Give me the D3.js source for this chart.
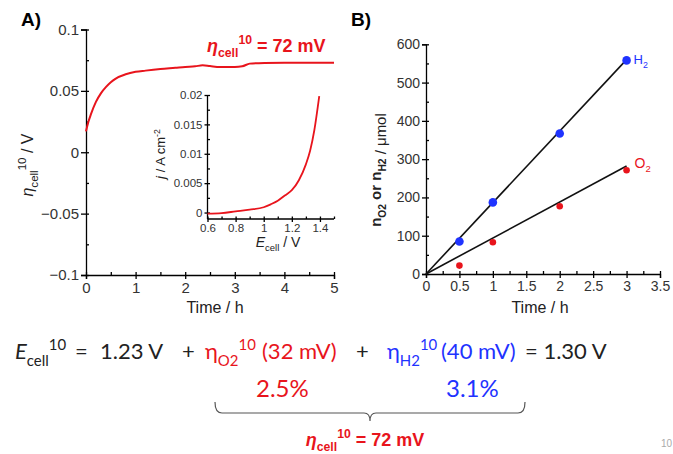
<!DOCTYPE html>
<html>
<head>
<meta charset="utf-8">
<script src="https://cdn.jsdelivr.net/npm/d3@7"></script>
<style>
  body { margin: 0; background: #fff; }
  svg text { font-family: "Liberation Sans", Arial, sans-serif; }
  .axis path, .axis line { stroke: #000; stroke-width: 1.3; }
  .axis text { fill: #333; }
</style>
</head>
<body>
<svg id="fig" width="673" height="454"></svg>
<script>
// panel A: overpotential vs time
var timeA = [0, 0.05, 0.1, 0.2, 0.3, 0.4, 0.5, 0.6, 0.8, 1.0, 1.2, 1.5, 1.8, 2.0, 2.2, 2.35, 2.5, 2.7, 3.0, 3.15, 3.3, 3.6, 4.0, 5.0];
var etaA  = [0.017, 0.025, 0.031, 0.041, 0.048, 0.053, 0.057, 0.060, 0.0635, 0.0655, 0.0665, 0.0678, 0.0688, 0.0695, 0.070, 0.0708, 0.0702, 0.0695, 0.0695, 0.070, 0.0722, 0.0728, 0.073, 0.073];

// inset: polarisation curve
var eInset = [0.6, 0.7, 0.8, 0.9, 1.0, 1.05, 1.1, 1.15, 1.2, 1.25, 1.3, 1.33, 1.36, 1.395];
var jInset = [-0.0002, -0.0001, 0.0002, 0.0005, 0.0009, 0.0014, 0.002, 0.0029, 0.0038, 0.0055, 0.0082, 0.0105, 0.014, 0.0198];

// panel B: gas evolution
var timeB = [0.5, 1, 2, 3];
var h2 = [85, 187, 367, 558];
var o2 = [22, 83, 177, 271];
var fitT = [0, 3];
var h2Fit = [0, 560];
var o2Fit = [0, 282];

var ticksA_x = [0, 1, 2, 3, 4, 5];
var ticksA_y = [-0.1, -0.05, 0, 0.05, 0.1];
var ticksIn_x = [0.6, 0.8, 1, 1.2, 1.4];
var ticksIn_y = [0, 0.005, 0.01, 0.015, 0.02];
var ticksB_x = [0, 0.5, 1, 1.5, 2, 2.5, 3, 3.5];
var ticksB_y = [0, 100, 200, 300, 400, 500, 600];

var red = "#e8141c", blue = "#1f33ff";

var svg = d3.select("#fig");

// rich text helper: parts = [[text, "sub"|"sup"|"", italic]]
function rich(sel, parts, size) {
  var shift = 0;
  parts.forEach(function (p) {
    var t = sel.append("tspan").text(p[0]);
    var target = p[1] === "sub" ? size * 0.3 : p[1] === "sup" ? -size * 0.42 : 0;
    t.attr("dy", target - shift);
    shift = target;
    if (p[1]) t.style("font-size", (size * 0.68) + "px");
    if (p[2]) t.style("font-style", "italic");
  });
  return sel;
}

function minor(g, scale, vals, orient, len) {
  var ax = orient === "bottom" ? d3.axisBottom(scale) : d3.axisLeft(scale);
  g.call(ax.tickValues(vals).tickSize(-len).tickFormat(""));
  g.select(".domain").remove();
}

function lines(a, b) { return a.map(function (d, i) { return [d, b[i]]; }); }

// ---------- panel A ----------
var xA = d3.scaleLinear().domain([0, 5]).range([86, 334]);
var yA = d3.scaleLinear().domain([-0.1, 0.1]).range([275, 29.5]);

svg.append("g").attr("class", "axis")
  .attr("transform", "translate(0," + yA(-0.1) + ")")
  .call(d3.axisBottom(xA).tickValues(ticksA_x).tickSize(4).tickPadding(3).tickFormat(d3.format("d")))
  .selectAll("text").style("font-size", "15px");
svg.append("g").attr("class", "axis")
  .attr("transform", "translate(0," + yA(-0.1) + ")")
  .call(function (g) { minor(g, xA, d3.range(0, 5.01, 0.5), "bottom", 3); });

svg.append("g").attr("class", "axis")
  .attr("transform", "translate(" + xA(0) + ",0)")
  .call(d3.axisLeft(yA).tickValues(ticksA_y).tickSize(5).tickPadding(2).tickFormat(function (d) { return d3.format("")(+d.toFixed(2)); }))
  .selectAll("text").style("font-size", "15px");
svg.append("g").attr("class", "axis")
  .attr("transform", "translate(" + xA(0) + ",0)")
  .call(function (g) { minor(g, yA, d3.range(-0.1, 0.1001, 0.025), "left", 3); });

svg.append("path")
  .datum(lines(timeA, etaA))
  .attr("fill", "none").attr("stroke", red).attr("stroke-width", 2)
  .attr("d", d3.line().curve(d3.curveMonotoneX).x(function (d) { return xA(d[0]); }).y(function (d) { return yA(d[1]); }));

svg.append("text").attr("x", 21).attr("y", 26)
  .style("font-size", "19px").style("font-weight", "bold").text("A)");

rich(svg.append("text").attr("x", 207).attr("y", 52)
  .style("font-size", "18px").style("font-weight", "bold").attr("fill", red),
  [["η", "", true], ["cell", "sub"], ["10", "sup"], [" = 72 mV", ""]], 18);

rich(svg.append("text").attr("transform", "translate(33,165) rotate(-90)")
  .attr("text-anchor", "middle").style("font-size", "16px").attr("fill", "#222"),
  [["η", "", true], ["cell", "sub"], ["10", "sup"], [" / V", ""]], 17);

svg.append("text").attr("x", 215).attr("y", 313).attr("text-anchor", "middle")
  .style("font-size", "16px").attr("fill", "#222").text("Time / h");

// ---------- inset ----------
var xI = d3.scaleLinear().domain([0.6, 1.5]).range([207.5, 334]);
var yI = d3.scaleLinear().domain([-0.0011, 0.02]).range([219, 95]);

svg.append("g").attr("class", "axis")
  .attr("transform", "translate(0," + yI.range()[0] + ")")
  .call(d3.axisBottom(xI).tickValues(ticksIn_x).tickSize(3).tickPadding(2).tickFormat(d3.format("")))
  .call(function (g) { g.select(".domain").attr("d", "M207.5,0H334"); })
  .selectAll("text").style("font-size", "11.5px");
svg.append("g").attr("class", "axis")
  .attr("transform", "translate(0," + yI.range()[0] + ")")
  .call(function (g) { minor(g, xI, d3.range(0.6, 1.51, 0.1), "bottom", 2.5); });

svg.append("g").attr("class", "axis")
  .attr("transform", "translate(" + xI.range()[0] + ",0)")
  .call(d3.axisLeft(yI).tickValues(ticksIn_y).tickSize(3).tickPadding(2).tickFormat(function (d) { return d3.format("")(+d.toFixed(3)); }))
  .call(function (g) { g.select(".domain").attr("d", "M0,219V95"); })
  .selectAll("text").style("font-size", "11.5px");
svg.append("g").attr("class", "axis")
  .attr("transform", "translate(" + xI.range()[0] + ",0)")
  .call(function (g) { minor(g, yI, d3.range(0, 0.0201, 0.0025), "left", 2.5); });

svg.append("path")
  .datum(lines(eInset, jInset))
  .attr("fill", "none").attr("stroke", red).attr("stroke-width", 1.8)
  .attr("d", d3.line().curve(d3.curveMonotoneX).x(function (d) { return xI(d[0]); }).y(function (d) { return yI(d[1]); }));

rich(svg.append("text").attr("transform", "translate(165,154) rotate(-90)")
  .attr("text-anchor", "middle").style("font-size", "13px").attr("fill", "#222"),
  [["j", "", true], [" / A cm", ""], ["-2", "sup"]], 13);

rich(svg.append("text").attr("x", 278).attr("y", 247).attr("text-anchor", "middle")
  .style("font-size", "14px").attr("fill", "#222"),
  [["E", "", true], ["cell", "sub"], [" / V", ""]], 14);

// ---------- panel B ----------
var xB = d3.scaleLinear().domain([0, 3.5]).range([426, 660]);
var yB = d3.scaleLinear().domain([0, 600]).range([274, 44.3]);

svg.append("g").attr("class", "axis")
  .attr("transform", "translate(0," + yB(0) + ")")
  .call(d3.axisBottom(xB).tickValues(ticksB_x).tickSize(4).tickPadding(3).tickFormat(d3.format("")))
  .selectAll("text").style("font-size", "14px");
svg.append("g").attr("class", "axis")
  .attr("transform", "translate(0," + yB(0) + ")")
  .call(function (g) { minor(g, xB, d3.range(0, 3.51, 0.25), "bottom", 3); });

svg.append("g").attr("class", "axis")
  .attr("transform", "translate(" + xB(0) + ",0)")
  .call(d3.axisLeft(yB).tickValues(ticksB_y).tickSize(4).tickPadding(2))
  .selectAll("text").style("font-size", "14px");
svg.append("g").attr("class", "axis")
  .attr("transform", "translate(" + xB(0) + ",0)")
  .call(function (g) { minor(g, yB, d3.range(0, 601, 50), "left", 3); });

var lineB = d3.line().x(function (d) { return xB(d[0]); }).y(function (d) { return yB(d[1]); });
[h2Fit, o2Fit].forEach(function (f) {
  svg.append("path").datum(lines(fitT, f))
    .attr("fill", "none").attr("stroke", "#111").attr("stroke-width", 1.6)
    .attr("d", lineB);
});

svg.selectAll(".h2dot").data(lines(timeB, h2)).enter().append("circle")
  .attr("class", "h2dot")
  .attr("cx", function (d) { return xB(d[0]); }).attr("cy", function (d) { return yB(d[1]); })
  .attr("r", 4.3).attr("fill", blue);
svg.selectAll(".o2dot").data(lines(timeB, o2)).enter().append("circle")
  .attr("class", "o2dot")
  .attr("cx", function (d) { return xB(d[0]); }).attr("cy", function (d) { return yB(d[1]); })
  .attr("r", 3.3).attr("fill", red);

rich(svg.append("text").attr("x", xB(3) + 7).attr("y", yB(h2[3]) + 4)
  .style("font-size", "13px").attr("fill", blue), [["H", ""], ["2", "sub"]], 13);
rich(svg.append("text").attr("x", xB(3) + 8).attr("y", yB(o2Fit[1]) + 2)
  .style("font-size", "14px").attr("fill", red), [["O", ""], ["2", "sub"]], 14);

svg.append("text").attr("x", 351).attr("y", 26)
  .style("font-size", "19px").style("font-weight", "bold").text("B)");

var ylb = svg.append("text").attr("transform", "translate(381,170) rotate(-90)")
  .attr("text-anchor", "middle").style("font-size", "15px").attr("fill", "#222");
rich(ylb, [["n", ""], ["O2", "sub"], [" or n", ""], ["H2", "sub"]], 15);
ylb.selectAll("tspan").style("font-weight", "bold");
rich(ylb, [[" / μmol", ""]], 15);

svg.append("text").attr("x", 540).attr("y", 313).attr("text-anchor", "middle")
  .style("font-size", "16px").attr("fill", "#222").text("Time / h");

// ---------- equation below ----------
function eq(x, y, size, color, parts) {
  var t = svg.append("text").attr("x", x).attr("y", y)
    .style("font-family", "Lato, 'Open Sans', sans-serif").style("font-size", size + "px").attr("fill", color);
  rich(t, parts, size);
  return t;
}
var base1 = 359;
eq(15, base1, 22, "#222", [["E", "", true], ["cell", "sub"], ["10", "sup"]]);
eq(75, base1, 22, "#222", [["=", ""]]);
eq(100, base1, 22, "#222", [["1.23 V", ""]]);
eq(182, base1, 22, "#222", [["+", ""]]);
eq(205, base1, 22, red, [["η", ""], ["O2", "sub"], ["10", "sup"]]);
eq(262, base1, 22, red, [["(32 mV)", ""]]);
eq(356, base1, 22, "#222", [["+", ""]]);
eq(387, base1, 22, blue, [["η", ""], ["H2", "sub"], ["10", "sup"]]);
eq(441, base1, 22, blue, [["(40 mV)", ""]]);
eq(525, base1, 22, "#222", [["= 1.30 V", ""]]);

eq(256, 397, 24, red, [["2.5%", ""]]);
eq(446, 397, 24, blue, [["3.1%", ""]]);

svg.append("path")
  .attr("d", "M215,402 Q215,413 222,413 L364,413 Q370,413 370,421 Q370,413 376,413 L518,413 Q525,413 525,402")
  .attr("fill", "none").attr("stroke", "#555").attr("stroke-width", 1.2);

rich(svg.append("text").attr("x", 365).attr("y", 446).attr("text-anchor", "middle")
  .style("font-size", "18px").style("font-weight", "bold").attr("fill", red),
  [["η", "", true], ["cell", "sub"], ["10", "sup"], [" = 72 mV", ""]], 18);

svg.append("text").attr("x", 661).attr("y", 447)
  .style("font-size", "10px").attr("fill", "#aaa").text("10");
</script>
</body>
</html>
